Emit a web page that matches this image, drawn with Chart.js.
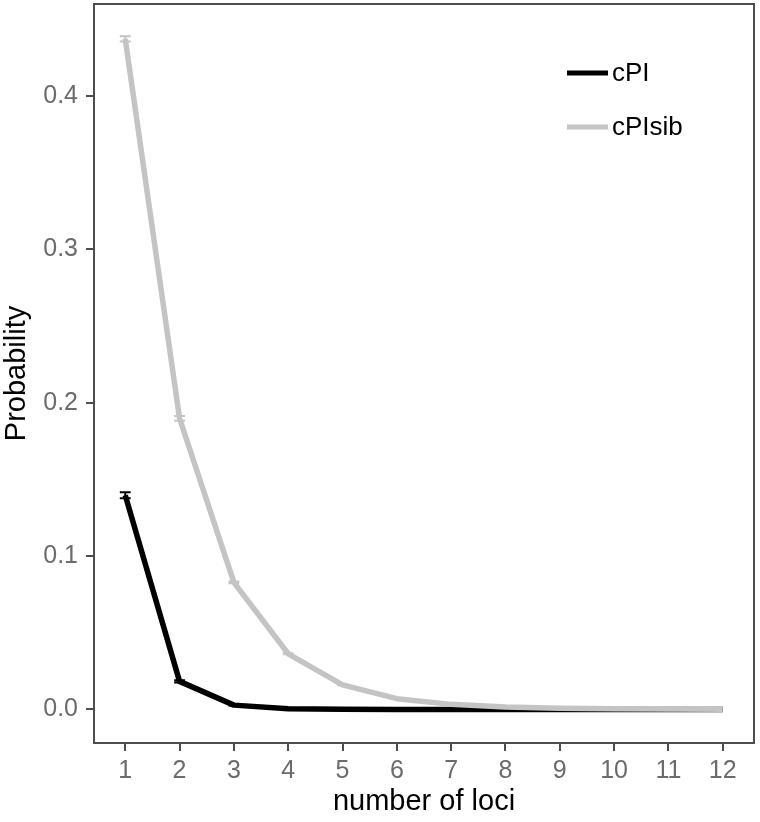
<!DOCTYPE html>
<html>
<head>
<meta charset="utf-8">
<script src="https://cdn.jsdelivr.net/npm/chart.js@4"></script>
<style>
html,body{margin:0;padding:0;background:#fff;}
#wrap{width:760px;height:822px;}
</style>
</head>
<body>
<div id="wrap"><canvas id="c" width="760" height="822"></canvas></div>
<script>
const loci = [1,2,3,4,5,6,7,8,9,10,11,12];
const cPI = [0.1397,0.0183,0.0028,0.0005,0.0001,0.00002,0,0,0,0,0,0];
const cPIerr = [0.0020,0.0008,0.0002,0.0001,0,0,0,0,0,0,0,0];
const cPIsib = [0.4373,0.1898,0.0829,0.0363,0.0160,0.0070,0.0033,0.0016,0.0008,0.0004,0.0002,0.0001];
const cPIsibErr = [0.0017,0.0015,0.0006,0.0003,0.0002,0.0001,0,0,0,0,0,0];
const yTicks = [0,0.1,0.2,0.3,0.4];

const FONT = "'Liberation Sans',Arial,sans-serif";
const FRAME = '#4d4d4d';
const TXT = '#6b6b6b';

const errs = [cPIerr, cPIsibErr];

const errorBars = {
  id:'errorBars',
  afterDatasetDraw(chart,args){
    const ds = chart.data.datasets[args.index];
    const e = errs[args.index];
    const xs = chart.scales.x, ys = chart.scales.y;
    const ctx = chart.ctx;
    ctx.save();
    ctx.strokeStyle = ds.borderColor;
    ctx.lineWidth = 2;
    ds.data.forEach((p,i)=>{
      const err = e[i];
      if(!err) return;
      const x0 = xs.getPixelForValue(p.x-0.1), x1 = xs.getPixelForValue(p.x+0.1);
      const yl = ys.getPixelForValue(p.y-err), yh = ys.getPixelForValue(p.y+err);
      const xc = xs.getPixelForValue(p.x);
      ctx.beginPath();
      ctx.moveTo(x0,yh);ctx.lineTo(x1,yh);
      ctx.moveTo(x0,yl);ctx.lineTo(x1,yl);
      ctx.moveTo(xc,yh);ctx.lineTo(xc,yl);
      ctx.stroke();
    });
    ctx.restore();
  }
};

const frame = {
  id:'frame',
  afterDraw(chart){
    const a = chart.chartArea, ctx = chart.ctx;
    ctx.save();
    ctx.strokeStyle = FRAME;
    ctx.lineWidth = 2;
    ctx.strokeRect(a.left, a.top, a.right-a.left, a.bottom-a.top);
    // legend
    const items = [{label:'cPI',color:'#000000',y:73},{label:'cPIsib',color:'#c4c4c4',y:127}];
    ctx.font = "26px " + FONT;
    ctx.textBaseline = 'middle';
    ctx.textAlign = 'left';
    items.forEach(it=>{
      ctx.strokeStyle = it.color;
      ctx.lineWidth = 5;
      ctx.beginPath();
      ctx.moveTo(567,it.y);ctx.lineTo(608,it.y);
      ctx.stroke();
      ctx.fillStyle = '#000';
      ctx.fillText(it.label,612,it.y+1);
    });
    ctx.restore();
  }
};

new Chart(document.getElementById('c'),{
  type:'line',
  data:{
    datasets:[
      {label:'cPI',data:loci.map((x,i)=>({x:x,y:cPI[i]})),borderColor:'#000000',borderWidth:5.5,pointRadius:0,fill:false,tension:0,order:1,borderJoinStyle:'round',borderCapStyle:'butt'},
      {label:'cPIsib',data:loci.map((x,i)=>({x:x,y:cPIsib[i]})),borderColor:'#c4c4c4',borderWidth:5.5,pointRadius:0,fill:false,tension:0,order:0,borderJoinStyle:'round',borderCapStyle:'butt'}
    ]
  },
  options:{
    responsive:false,
    animation:false,
    devicePixelRatio:1,
    layout:{padding:{top:4,right:6,left:0,bottom:0}},
    plugins:{legend:{display:false},tooltip:{enabled:false}},
    scales:{
      x:{
        type:'linear',min:0.425,max:12.575,
        afterBuildTicks(s){s.ticks = loci.map(v=>({value:v}));},
        afterFit(s){s.height = 79; s.paddingLeft = 0; s.paddingRight = 0;},
        ticks:{color:TXT,font:{family:FONT,size:25},padding:5,maxRotation:0,autoSkip:false,callback:v=>String(v)},
        grid:{drawOnChartArea:false,drawTicks:true,tickLength:8,color:FRAME,lineWidth:2},
        border:{display:true,color:FRAME,width:2},
        title:{display:true,text:'number of loci',color:'#000',font:{family:FONT,size:29},padding:{top:0,bottom:3}}
      },
      y:{
        type:'linear',min:-0.0219,max:0.4601,
        afterBuildTicks(s){s.ticks = yTicks.map(v=>({value:v}));},
        afterFit(s){s.width = 94; s.paddingTop = 0; s.paddingBottom = 0;},
        ticks:{color:TXT,font:{family:FONT,size:25},padding:8,callback:v=>v.toFixed(1)},
        grid:{drawOnChartArea:false,drawTicks:true,tickLength:8,color:FRAME,lineWidth:2},
        border:{display:true,color:FRAME,width:2},
        title:{display:true,text:'Probability',color:'#000',font:{family:FONT,size:29},padding:{top:0,bottom:0}}
      }
    }
  },
  plugins:[errorBars,frame]
});
</script>
</body>
</html>
